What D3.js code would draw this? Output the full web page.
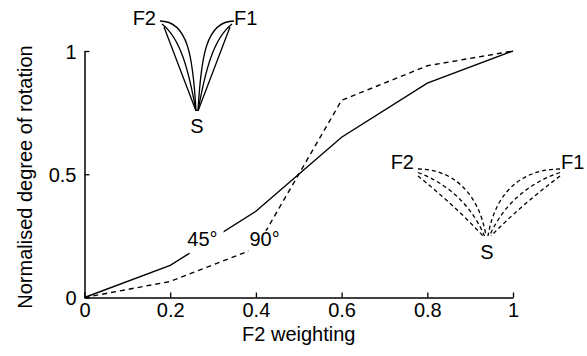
<!DOCTYPE html>
<html>
<head>
<meta charset="utf-8">
<script src="https://cdn.jsdelivr.net/npm/d3@7"></script>
<style>
  html, body { margin: 0; padding: 0; background: #fff; }
  svg { display: block; font-family: "Liberation Sans", Arial, Helvetica, sans-serif; }
</style>
</head>
<body>
<svg id="chart" width="587" height="356"></svg>
<script>
// ---- data ----
const xWeights = [0, 0.2, 0.4, 0.6, 0.8, 1];
const rot45 = [0, 0.13, 0.35, 0.65, 0.87, 1];      // solid line
const rot90 = [0, 0.065, 0.2, 0.8, 0.94, 1];        // dashed line
const xTicks = [0, 0.2, 0.4, 0.6, 0.8, 1];
const xTickLabels = ["0", "0.2", "0.4", "0.6", "0.8", "1"];
const yTicks = [0, 0.5, 1];
const yTickLabels = ["0", "0.5", "1"];
const xTitle = "F2 weighting";
const yTitle = "Normalised degree of rotation";
const seriesLabels = ["45°", "90°"];
const seriesLabelPos = [[0.24, 0.21], [0.385, 0.21]]; // data coords of label left/baseline

// ---- layout ----
const svg = d3.select("#chart");
const X0 = 84.5, X1 = 513, Y0 = 297.5, Y1 = 51;
const x = d3.scaleLinear().domain([0, 1]).range([X0, X1]);
const y = d3.scaleLinear().domain([0, 1]).range([Y0, Y1]);
const FS = 20;

// ---- data lines ----
const line = d3.line().x(d => x(d[0])).y(d => y(d[1]));
svg.append("path")
  .datum(xWeights.map((w, i) => [w, rot45[i]]))
  .attr("d", line).attr("fill", "none").attr("stroke", "#000").attr("stroke-width", 1.4);
svg.append("path")
  .datum(xWeights.map((w, i) => [w, rot90[i]]))
  .attr("d", line).attr("fill", "none").attr("stroke", "#000").attr("stroke-width", 1.4)
  .attr("stroke-dasharray", "5,4");

// ---- series labels with white knock-out ----
seriesLabels.forEach((t, i) => {
  const g = svg.append("g");
  const rect = g.append("rect").attr("fill", "#fff");
  const txt = g.append("text")
    .attr("x", x(seriesLabelPos[i][0]))
    .attr("y", y(seriesLabelPos[i][1]))
    .attr("font-size", FS).text(t);
  const b = txt.node().getBBox();
  if (i === 0) {
    rect.attr("x", b.x + 2).attr("y", b.y).attr("width", b.width + 4).attr("height", b.height + 4);
  } else {
    rect.attr("x", b.x - 1).attr("y", b.y + 3).attr("width", b.width - 4).attr("height", b.height + 4);
  }
});

// ---- axes ----
const xAxis = d3.axisBottom(x).tickValues(xTicks).tickFormat((d, i) => xTickLabels[i])
  .tickSizeInner(-5).tickSizeOuter(0).tickPadding(5);
const gx = svg.append("g").attr("transform", `translate(0,${Y0})`).call(xAxis);
gx.select(".domain").attr("stroke", "#000").attr("stroke-width", 1.5);
gx.selectAll(".tick line").attr("stroke", "#000").attr("stroke-width", 1.3);
gx.selectAll(".tick text").attr("font-size", FS).attr("font-family", "Liberation Sans, Arial, sans-serif")
  .attr("fill", "#000");

const yAxis = d3.axisLeft(y).tickValues(yTicks).tickFormat((d, i) => yTickLabels[i])
  .tickSizeInner(-5).tickSizeOuter(0).tickPadding(8);
const gy = svg.append("g").attr("transform", `translate(${X0},0)`).call(yAxis);
gy.select(".domain").attr("stroke", "#000").attr("stroke-width", 1.5);
gy.selectAll(".tick line").attr("stroke", "#000").attr("stroke-width", 1.3);
gy.selectAll(".tick text").attr("font-size", FS).attr("font-family", "Liberation Sans, Arial, sans-serif")
  .attr("fill", "#000").attr("dy", "0.35em");

// axis titles
svg.append("text").attr("x", (X0 + X1) / 2).attr("y", 341)
  .attr("text-anchor", "middle").attr("font-size", FS).text(xTitle);
svg.append("text").attr("transform", `translate(32,177) rotate(-90)`)
  .attr("text-anchor", "middle").attr("font-size", FS).text(yTitle);

// ---- inset diagrams (fan of curves from S to F2 / F1) ----
function fan(opts) {
  const g = svg.append("g");
  const { S, L, R, ts, dash, lw } = opts;
  const h = S[1] - L[1];
  opts.starts.forEach((off, k) => {
    const t = ts[k];
    [[L, -1], [R, 1]].forEach(([E, side]) => {
      const sx = E[0] - side * off[0], sy = E[1] + off[1];
      const ex = S[0] + side * (opts.endSpread ? opts.endSpread[k] : 1), ey = S[1];
      // straight control points
      const s1 = [sx + (ex - sx) / 3, sy + (ey - sy) / 3];
      const s2 = [sx + 2 * (ex - sx) / 3, sy + 2 * (ey - sy) / 3];
      // curved control points (toward the end's side of S)
      const c1 = [ex + side * opts.c1dx, sy];
      const c2 = [ex + side * opts.c2dx, sy + opts.c2f * h];
      const p1 = [s1[0] + t * (c1[0] - s1[0]), s1[1] + t * (c1[1] - s1[1])];
      const p2 = [s2[0] + t * (c2[0] - s2[0]), s2[1] + t * (c2[1] - s2[1])];
      const p = d3.path();
      p.moveTo(sx, sy);
      p.bezierCurveTo(p1[0], p1[1], p2[0], p2[1], ex, ey);
      g.append("path").attr("d", p.toString()).attr("fill", "none")
        .attr("stroke", "#000").attr("stroke-width", lw)
        .attr("stroke-dasharray", dash || null);
    });
  });
  g.append("text").attr("x", opts.labL[0]).attr("y", opts.labL[1]).attr("text-anchor", "end")
    .attr("font-size", FS).text("F2");
  g.append("text").attr("x", opts.labR[0]).attr("y", opts.labR[1]).attr("text-anchor", "start")
    .attr("font-size", FS).text("F1");
  g.append("text").attr("x", opts.labS[0]).attr("y", opts.labS[1]).attr("text-anchor", "middle")
    .attr("font-size", FS).text("S");
}

fan({
  S: [197, 111], L: [160, 21], R: [234, 21],
  starts: [[4, 6], [2, 3], [0, 0]], ts: [0, 0.5, 1],
  c1dx: 8, c2dx: 3, c2f: 0.4, lw: 1.3,
  labL: [156, 25], labR: [234, 25], labS: [197, 133]
});
fan({
  S: [487, 236], L: [418, 169], R: [560, 169],
  starts: [[0, 7], [0, 3.5], [0, 0]], ts: [0.1, 0.55, 1],
  endSpread: [4, 2.5, 1],
  c1dx: 38, c2dx: 8, c2f: 0.28, lw: 1.3, dash: "4,3",
  labL: [414, 169], labR: [561, 169], labS: [487, 259]
});
</script>
</body>
</html>
